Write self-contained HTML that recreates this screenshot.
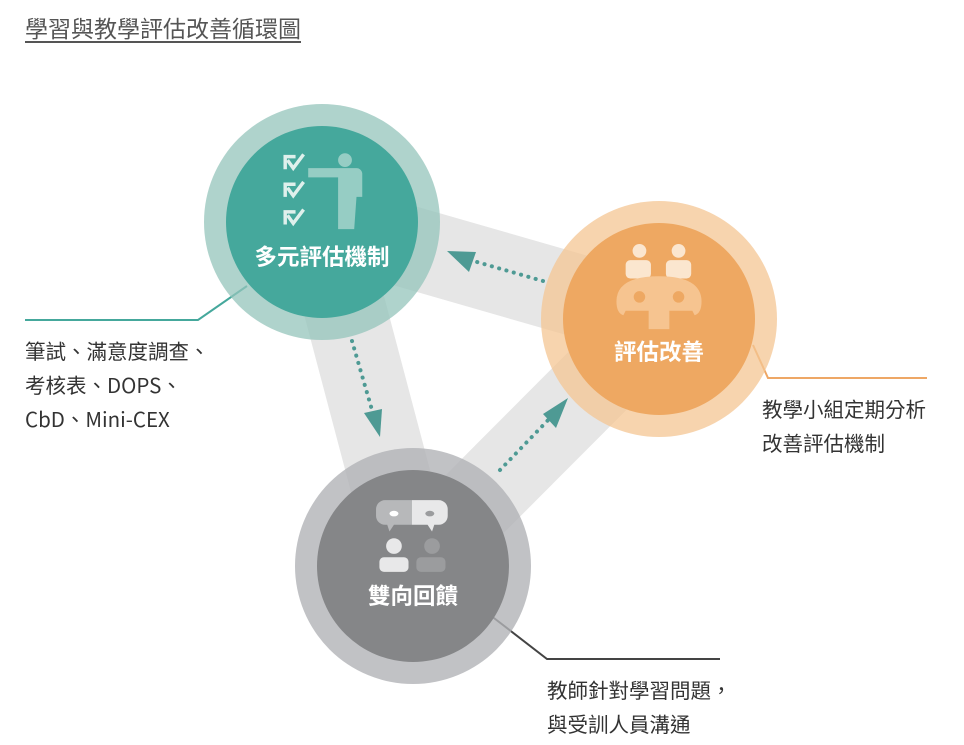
<!DOCTYPE html>
<html><head><meta charset="utf-8"><style>
html,body{margin:0;padding:0;background:#fff;width:964px;height:745px;overflow:hidden;}
body{font-family:"Noto Sans CJK TC","Liberation Sans",sans-serif;color:#333;position:relative;}
.t{position:absolute;font-size:20.5px;line-height:34px;white-space:nowrap;}
</style></head><body>
<div style="position:absolute;left:25px;top:10px;font-size:23px;color:#555;text-decoration:underline;text-underline-offset:4px;letter-spacing:0px">學習與教學評估改善循環圖</div>
<svg width="964" height="745" style="position:absolute;left:0;top:0">
<g stroke="#e6e6e6" stroke-width="82" fill="none">
<line x1="322" y1="222" x2="659" y2="319"/>
<line x1="322" y1="222" x2="413" y2="566"/>
<line x1="413" y1="566" x2="659" y2="319"/>
</g>
<polyline points="247,286 198,320 25,320" fill="none" stroke="#45a89c" stroke-width="2"/>
<polyline points="753,345 768,378 927,378" fill="none" stroke="#eea765" stroke-width="2"/>
<polyline points="490,615 547,659 720,659" fill="none" stroke="#444" stroke-width="2"/>
<circle cx="322" cy="222" r="118" fill="#94c4bb" opacity="0.75"/>
<circle cx="322" cy="222" r="96" fill="#45a89c"/>
<circle cx="659" cy="319" r="118" fill="#f4c593" opacity="0.75"/>
<circle cx="659" cy="319" r="96" fill="#eea862"/>
<circle cx="413" cy="566" r="118" fill="#b1b3b6" opacity="0.8"/>
<circle cx="413" cy="566" r="96" fill="#858688"/>
<g stroke="#4e9a94" stroke-width="4" stroke-dasharray="0.1 7.5" stroke-linecap="round" fill="none">
<line x1="543" y1="281" x2="470" y2="260"/>
<line x1="352" y1="341" x2="372" y2="410"/>
<line x1="500" y1="470" x2="552" y2="416"/>
</g>
<g fill="#4e9a94">
<polygon points="447,251 476,252 469,272"/>
<polygon points="380,437 364,413 382,409"/>
<polygon points="568,398 556,428 543,414"/>
</g>
<g transform="translate(322,190) scale(1.15) translate(-322,-190)">
<g fill="none" stroke="#dff0ec" stroke-width="3">
<path d="M290 172 v-11 h9"/><path d="M292 164 l5 7 l9 -12"/>
<path d="M290 196 v-11 h9"/><path d="M292 188 l5 7 l9 -12"/>
<path d="M290 220 v-11 h9"/><path d="M292 212 l5 7 l9 -12"/>
</g>
<circle cx="342" cy="164" r="6" fill="#96cdc4"/>
<path d="M310 171 h42 a5 5 0 0 1 5 5 v20 h-5 l-2 28 h-14 l0 -45 h-26 z" fill="#96cdc4"/>
</g>
<text x="322" y="265" text-anchor="middle" font-size="22.5" font-weight="bold" fill="#fff" font-family="Noto Sans CJK TC,sans-serif">多元評估機制</text>
<g transform="translate(659,290) scale(1.15) translate(-659,-290)">
<g fill="#fbe6cf"><circle cx="642" cy="256" r="6"/><circle cx="676" cy="256" r="6"/>
<rect x="630" y="264" width="22" height="16" rx="4"/><rect x="665" y="264" width="22" height="16" rx="4"/></g>
<path d="M622 300 q0 -22 37 -22 q37 0 37 22 q0 10 -6 12 l-2 -4 h-20 v16 h-18 v-16 h-20 l-2 4 q-6 -2 -6 -12z" fill="#f6c490"/>
<circle cx="642" cy="296" r="5" fill="#eea862"/><circle cx="676" cy="296" r="5" fill="#eea862"/>
</g>
<text x="659" y="360" text-anchor="middle" font-size="22.5" font-weight="bold" fill="#fff" font-family="Noto Sans CJK TC,sans-serif">評估改善</text>
<g transform="translate(413,536) scale(1.12) translate(-413,-536)">
<path d="M388 504 h24 v22 h-16 l-4 6 l-2 -6 h-2 a8 8 0 0 1 -8 -8 v-6 a8 8 0 0 1 8 -8z" fill="#b7b8ba"/>
<path d="M412 504 h24 a8 8 0 0 1 8 8 v6 a8 8 0 0 1 -8 8 h-4 l-2 6 l-4 -6 h-14z" fill="#e8e8e9"/>
<ellipse cx="396" cy="516" rx="4" ry="2.5" fill="#fff"/><ellipse cx="428" cy="516" rx="4" ry="2.5" fill="#9b9c9e"/>
<circle cx="396" cy="545" r="7" fill="#e8e8e9"/><circle cx="430" cy="545" r="7" fill="#9b9c9e"/>
<rect x="383" y="555" width="26" height="13" rx="4" fill="#e8e8e9"/><rect x="416" y="555" width="26" height="13" rx="4" fill="#9b9c9e"/>
</g>
<text x="413" y="604" text-anchor="middle" font-size="22.5" font-weight="bold" fill="#fff" font-family="Noto Sans CJK TC,sans-serif">雙向回饋</text>
</svg>
<div class="t" style="left:25px;top:333px">筆試、滿意度調查、<br>考核表、DOPS、<br>CbD、Mini-CEX</div>
<div class="t" style="left:762px;top:391px">教學小組定期分析<br>改善評估機制</div>
<div class="t" style="left:547px;top:672px">教師針對學習問題，<br>與受訓人員溝通</div>
</body></html>
